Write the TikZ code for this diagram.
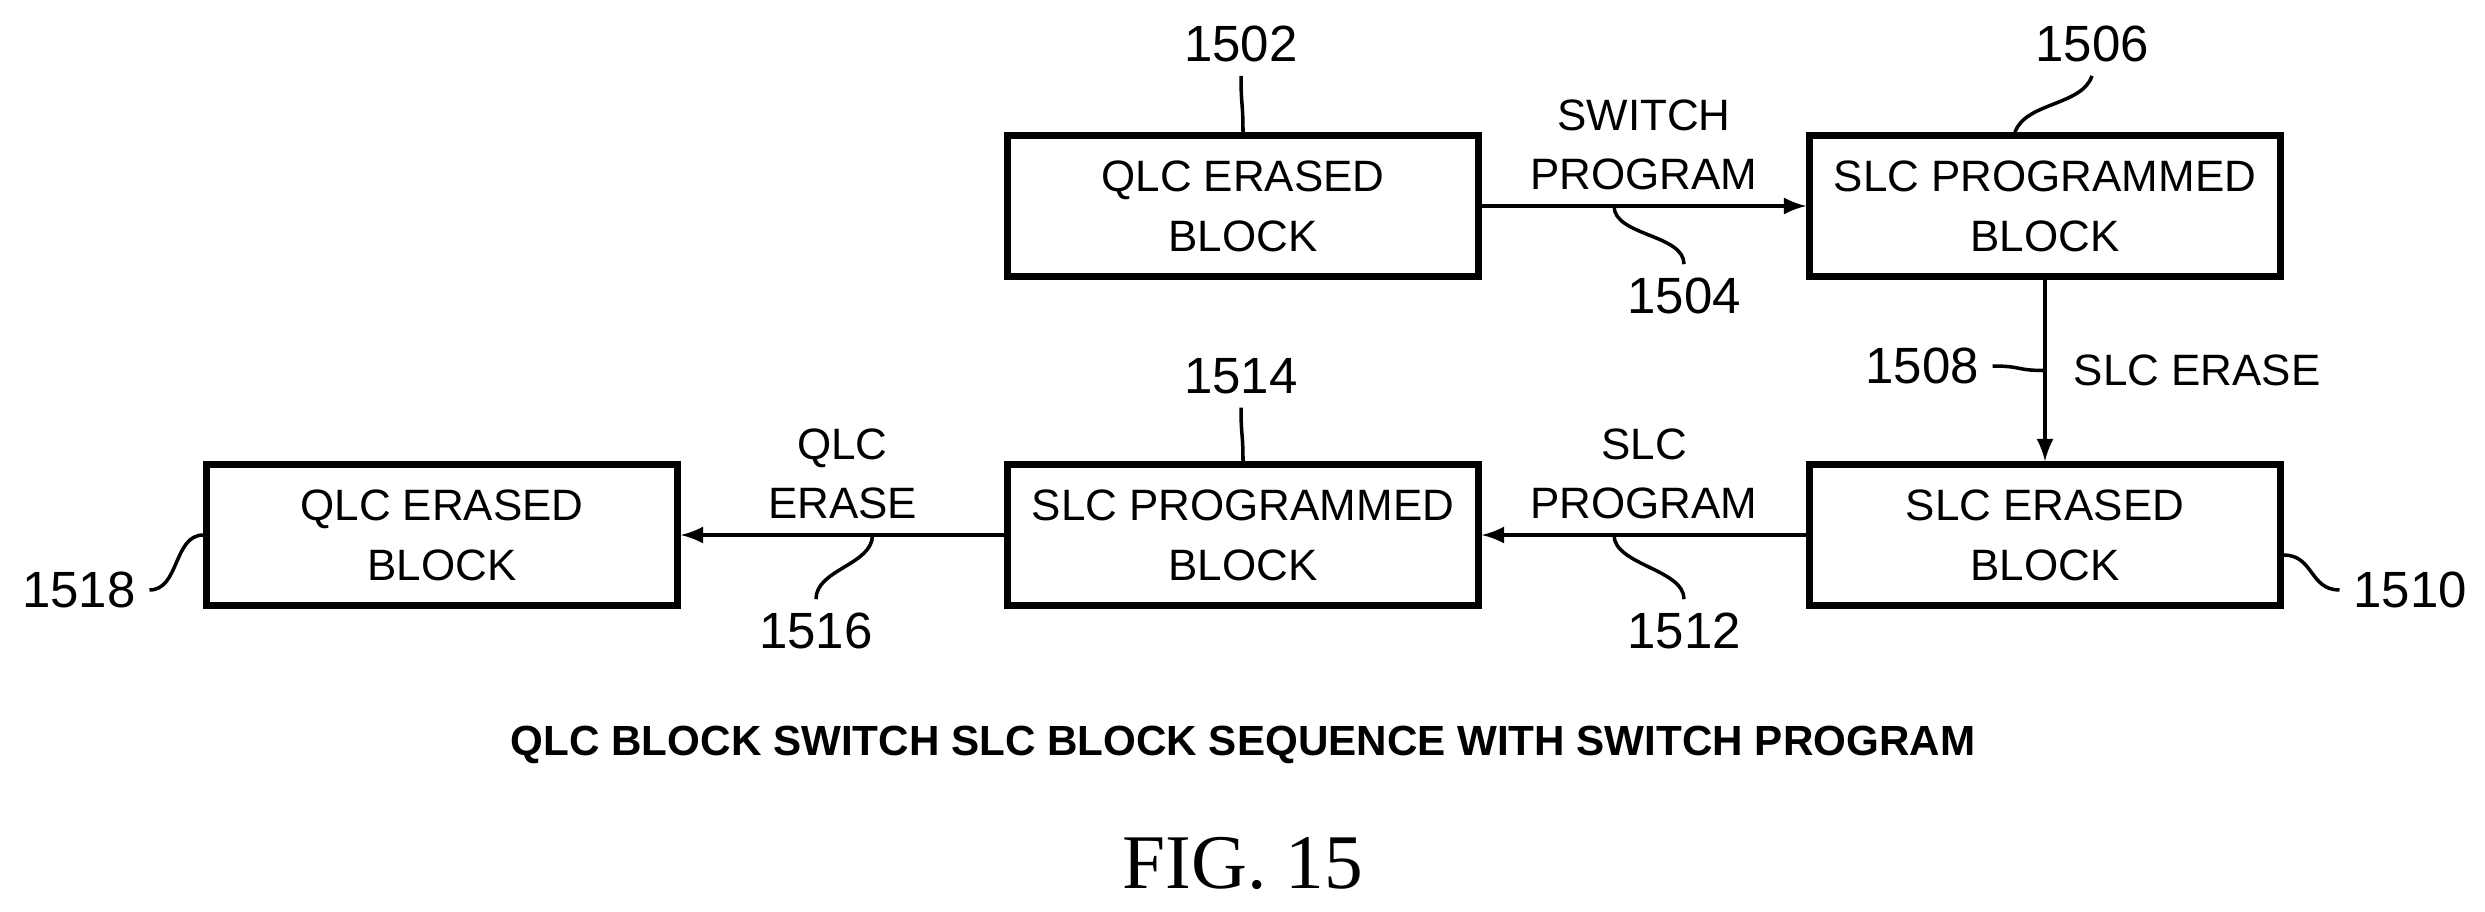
\documentclass[tikz,border=0pt]{standalone}
\usepackage{fontspec}
\setmainfont{Liberation Sans}
\newfontfamily\figfont{Liberation Serif}
\usetikzlibrary{positioning}
\begin{document}
\begin{tikzpicture}[->,>=latex,line width=1.2pt]
\tikzstyle{block}=[draw,line width=1.8pt,minimum width=4.71cm,minimum height=1.41cm,align=center,font=\fontsize{12.5}{17}\selectfont]
\tikzstyle{lbl}=[align=center,font=\fontsize{12.5}{17}\selectfont]
\tikzstyle{num}=[font=\fontsize{14.5}{17}\selectfont]
\tikzstyle{lead}=[-,line width=1pt]
\useasboundingbox (0,0) rectangle (24.85,9.11);

\node[block] (B-1502) at (12.43,7.05) {QLC ERASED\\BLOCK};
\node[block] (B-1506) at (20.45,7.05) {SLC PROGRAMMED\\BLOCK};
\node[block] (B-1510) at (20.45,3.76) {SLC ERASED\\BLOCK};
\node[block] (B-1514) at (12.43,3.76) {SLC PROGRAMMED\\BLOCK};
\node[block] (B-1518) at (4.42,3.76) {QLC ERASED\\BLOCK};

\draw (B-1502) -- (B-1506) coordinate[pos=0.5] (m-1504);
\draw (B-1506) -- (B-1510) coordinate[pos=0.5] (m-1508);
\draw (B-1510) -- (B-1514) coordinate[pos=0.5] (m-1512);
\draw (B-1514) -- (B-1518) coordinate[pos=0.5] (m-1516);

\node[lbl,above=0.02cm of m-1504] {SWITCH\\PROGRAM};
\node[lbl,right=0.15cm of m-1508] {SLC ERASE};
\node[lbl,above=0.02cm of m-1512] {SLC\\PROGRAM};
\node[lbl,above=0.02cm of m-1516] {QLC\\ERASE};

% reference numerals
\node[num] (n-1502) at (12.41,8.67) {1502};
\node[num] (n-1506) at (20.92,8.67) {1506};
\node[num] (n-1504) at (16.84,6.15) {1504};
\node[num] (n-1508) at (19.22,5.45) {1508};
\node[num] (n-1510) at (24.10,3.21) {1510};
\node[num] (n-1512) at (16.84,2.80) {1512};
\node[num] (n-1514) at (12.41,5.35) {1514};
\node[num] (n-1516) at (8.16,2.80) {1516};
\node[num] (n-1518) at (0.79,3.21) {1518};

\draw[lead] (n-1502.south) .. controls +(0,-0.3) and +(0,0.3) .. (B-1502.north);
\draw[lead] (n-1506.south) .. controls +(-0.1,-0.3) and +(0.1,0.3) .. ([xshift=-0.3cm]B-1506.north);
\draw[lead] ([xshift=-0.3cm]m-1504) .. controls +(0,-0.3) and +(0,0.3) .. (n-1504.north);
\draw[lead] (n-1508.east) .. controls +(0.3,0) and +(-0.3,0) .. (m-1508);
\draw[lead] ([yshift=-0.2cm]B-1510.east) .. controls +(0.3,0) and +(-0.3,0) .. (n-1510.west);
\draw[lead] ([xshift=-0.3cm]m-1512) .. controls +(0,-0.3) and +(0,0.3) .. (n-1512.north);
\draw[lead] (n-1514.south) .. controls +(0,-0.3) and +(0,0.3) .. (B-1514.north);
\draw[lead] ([xshift=0.3cm]m-1516) .. controls +(0,-0.3) and +(0,0.3) .. (n-1516.north);
\draw[lead] (n-1518.east) .. controls +(0.3,0) and +(-0.3,0) .. (B-1518.west);

\node[font=\bfseries\fontsize{12}{14}\selectfont] (caption) at (12.43,1.66) {QLC BLOCK SWITCH SLC BLOCK SEQUENCE WITH SWITCH PROGRAM};
\node[font=\figfont\fontsize{22}{26}\selectfont] (fig) at (12.43,0.48) {FIG. 15};
\end{tikzpicture}
\end{document}
